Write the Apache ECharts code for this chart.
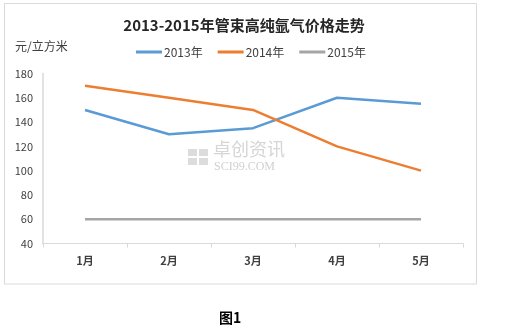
<!DOCTYPE html>
<html>
<head>
<meta charset="utf-8">
<script src="https://cdn.jsdelivr.net/npm/echarts@6/dist/echarts.min.js"></script>
<style>
html,body{margin:0;padding:0;background:#fff;}
#c{width:508px;height:331px;}
</style>
</head>
<body>
<div id="c"></div>
<script>
var categories = ['1月','2月','3月','4月','5月'];
var s2013 = [150, 130, 135, 160, 155];
var s2014 = [170, 160, 150, 120, 100];
var s2015 = [60, 60, 60, 60, 60];
var seriesNames = ['2013年','2014年','2015年'];
var colors = ['#5b9bd5','#ed7d31','#a5a5a5'];

var chart = echarts.init(document.getElementById('c'));
var font = '"Noto Sans CJK SC", "Noto Sans", sans-serif';
function mk(name, data, color){
  return {name:name, type:'line', data:data, symbol:'none', silent:true,
    lineStyle:{color:color, width:2.5}, itemStyle:{color:color}};
}
chart.setOption({
  animation:false,
  backgroundColor:'#fff',
  title:{text:'2013-2015年管束高纯氩气价格走势', left:239, top:13, textAlign:'center',
    textStyle:{fontFamily:font, fontSize:15, fontWeight:'bold', color:'#262626'}},
  legend:{data:seriesNames, left:131, top:41, itemWidth:26, itemHeight:3, itemGap:15,
    icon:'rect',
    textStyle:{fontFamily:font, fontSize:12, color:'#404040', padding:[0,0,0,-3]}},
  grid:{left:43, right:45, top:73.5, bottom:87.5},
  xAxis:{type:'category', data:categories, boundaryGap:true,
    axisLine:{lineStyle:{color:'#d9d9d9', width:1}},
    axisTick:{show:true, length:4, inside:false, lineStyle:{color:'#d9d9d9'}},
    axisLabel:{fontFamily:font, fontSize:11, color:'#404040', margin:12, fontWeight:'bold'}},
  yAxis:{type:'value', min:40, max:180, interval:20,
    axisLine:{show:true, lineStyle:{color:'#d9d9d9', width:1.5}},
    axisTick:{show:false}, splitLine:{show:false},
    axisLabel:{fontFamily:font, fontSize:11, color:'#404040', margin:10}},
  graphic:[
    {type:'rect', shape:{x:4.5, y:3.5, width:472, height:280.5}, style:{fill:'none', stroke:'#d9d9d9', lineWidth:1}, z:-1},
    {type:'text', left:15, top:40, style:{text:'元/立方米', fontFamily:font, fontSize:12, fill:'#404040'}},
    {type:'rect', shape:{x:188, y:149, width:9, height:7}, style:{fill:'#dcdcdc'}},
    {type:'rect', shape:{x:199, y:149, width:9, height:7}, style:{fill:'#dcdcdc'}},
    {type:'rect', shape:{x:188, y:158, width:9, height:7}, style:{fill:'#dcdcdc'}},
    {type:'rect', shape:{x:199, y:158, width:9, height:7}, style:{fill:'#dcdcdc'}},
    {type:'text', left:213, top:140, style:{text:'卓创资讯', fontFamily:font, fontSize:18, fill:'#d6d6d6'}},
    {type:'text', left:214, top:161, style:{text:'SCI99.COM', fontFamily:'"Liberation Serif", serif', fontSize:12, fill:'#d0d0d0'}},
    {type:'text', left:219, top:311, style:{text:'图1', fontFamily:font, fontSize:14, fontWeight:'bold', fill:'#000'}}
  ],
  series:[mk(seriesNames[0], s2013, colors[0]), mk(seriesNames[1], s2014, colors[1]), mk(seriesNames[2], s2015, colors[2])]
});
</script>
</body>
</html>
